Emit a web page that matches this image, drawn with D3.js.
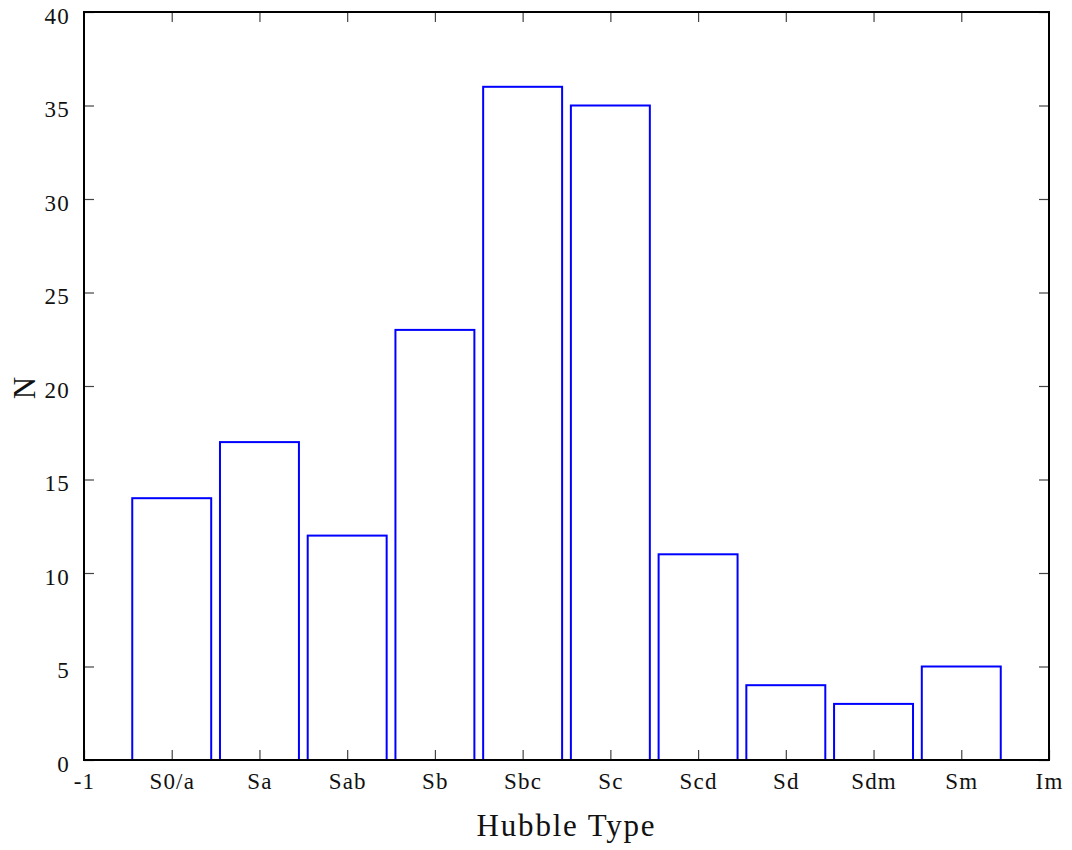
<!DOCTYPE html>
<html>
<head>
<meta charset="utf-8">
<script src="https://cdn.jsdelivr.net/npm/d3@7"></script>
<style>
  body { margin: 0; background: #fff; }
  svg text { font-family: "Liberation Serif", "DejaVu Serif", serif; fill: #111; }
</style>
</head>
<body>
<svg width="1072" height="850"></svg>
<script>
// Hubble types, positions 0..9 on the x axis; -1 and 10 are the edge labels
const types = ['S0/a', 'Sa', 'Sab', 'Sb', 'Sbc', 'Sc', 'Scd', 'Sd', 'Sdm', 'Sm'];
const counts = [14, 17, 12, 23, 36, 35, 11, 4, 3, 5];
const xTickLabels = ['-1', 'S0/a', 'Sa', 'Sab', 'Sb', 'Sbc', 'Sc', 'Scd', 'Sd', 'Sdm', 'Sm', 'Im'];
const yTicks = [0, 5, 10, 15, 20, 25, 30, 35, 40];

let svg = d3.select('svg');

let plotL = 84, plotR = 1049, plotT = 12, plotB = 760; // plot frame
let barW = 0.9; // bar width in x units

let x = d3.scaleLinear().domain([-1, 10]).range([plotL, plotR]);
let y = d3.scaleLinear().domain([0, 40]).range([plotB, plotT]);

// bars
svg.selectAll('rect.bar')
	.data(counts)
	.enter()
	.append('rect')
	.attr('class', 'bar')
	.attr('x', (d, i) => x(i - barW / 2))
	.attr('y', d => y(d))
	.attr('width', x(barW) - x(0))
	.attr('height', d => y(0) - y(d))
	.attr('fill', 'none')
	.attr('stroke', '#0000ff')
	.attr('stroke-width', 2);

// axes, ticks pointing inwards
let xAxis = d3.axisBottom(x)
	.tickValues(d3.range(-1, 11))
	.tickFormat((d, i) => xTickLabels[i])
	.tickSizeInner(-10).tickSizeOuter(0).tickPadding(13);
let xTop = d3.axisTop(x)
	.tickValues(d3.range(0, 10))
	.tickFormat('')
	.tickSizeInner(-10).tickSizeOuter(0);
let yAxis = d3.axisLeft(y)
	.tickValues(yTicks)
	.tickSizeInner(-10).tickSizeOuter(0).tickPadding(14);
let yRight = d3.axisRight(y)
	.tickValues(yTicks)
	.tickFormat('')
	.tickSizeInner(-10).tickSizeOuter(0);

function style(g)
{
	g.select('.domain').remove();
	g.selectAll('line').attr('stroke', '#444').attr('stroke-width', 1.2);
	g.selectAll('text').attr('font-size', 23).attr('letter-spacing', 1.2).attr('fill', '#111');
}

svg.append('g').attr('transform', 'translate(0,' + plotB + ')').call(xAxis).call(style);
svg.append('g').attr('transform', 'translate(0,' + plotT + ')').call(xTop).call(style);
svg.append('g').attr('transform', 'translate(' + plotL + ',0)').call(yAxis).call(style)
	.selectAll('text').attr('dy', '0.48em');
svg.append('g').attr('transform', 'translate(' + plotR + ',0)').call(yRight).call(style);

// frame
svg.append('rect')
	.attr('x', plotL).attr('y', plotT)
	.attr('width', plotR - plotL).attr('height', plotB - plotT)
	.attr('fill', 'none').attr('stroke', '#000').attr('stroke-width', 2);

// axis titles
svg.append('text')
	.attr('x', (plotL + plotR) / 2).attr('y', 836)
	.attr('text-anchor', 'middle')
	.attr('font-size', 31)
	.attr('letter-spacing', 1.8)
	.text('Hubble Type');

svg.append('text')
	.attr('transform', 'translate(35,' + ((plotT + plotB) / 2 + 2) + ') rotate(-90)')
	.attr('text-anchor', 'middle')
	.attr('font-size', 31)
	.text('N');
</script>
</body>
</html>
